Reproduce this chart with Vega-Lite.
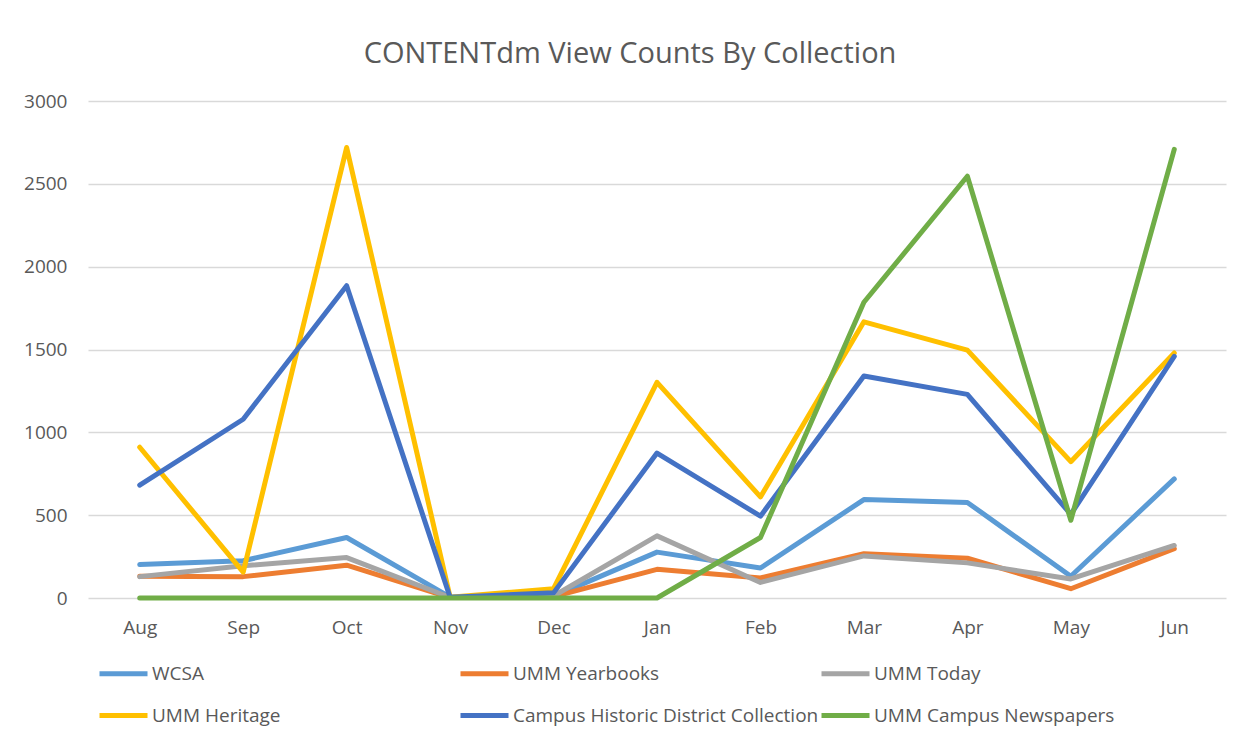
{
  "$schema": "https://vega.github.io/schema/vega-lite/v6.json",
  "width": 1138,
  "height": 497,
  "autosize": {"type": "none"},
  "padding": {"left": 88, "top": 101, "right": 18, "bottom": 143},
  "background": "white",
  "title": {
    "text": "CONTENTdm View Counts By Collection",
    "font": "Open Sans",
    "fontSize": 29,
    "fontWeight": "normal",
    "color": "#595959",
    "anchor": "middle",
    "offset": 23,
    "dx": -27
  },
  "config": {
    "view": {"stroke": null},
    "font": "Open Sans"
  },
  "data": {
    "values": [
      {"m": "Aug", "s": "WCSA", "v": 202}, {"m": "Sep", "s": "WCSA", "v": 225}, {"m": "Oct", "s": "WCSA", "v": 365}, {"m": "Nov", "s": "WCSA", "v": 5}, {"m": "Dec", "s": "WCSA", "v": 10}, {"m": "Jan", "s": "WCSA", "v": 277}, {"m": "Feb", "s": "WCSA", "v": 181}, {"m": "Mar", "s": "WCSA", "v": 594}, {"m": "Apr", "s": "WCSA", "v": 577}, {"m": "May", "s": "WCSA", "v": 131}, {"m": "Jun", "s": "WCSA", "v": 719},
      {"m": "Aug", "s": "UMM Yearbooks", "v": 131}, {"m": "Sep", "s": "UMM Yearbooks", "v": 129}, {"m": "Oct", "s": "UMM Yearbooks", "v": 198}, {"m": "Nov", "s": "UMM Yearbooks", "v": 3}, {"m": "Dec", "s": "UMM Yearbooks", "v": 8}, {"m": "Jan", "s": "UMM Yearbooks", "v": 173}, {"m": "Feb", "s": "UMM Yearbooks", "v": 121}, {"m": "Mar", "s": "UMM Yearbooks", "v": 267}, {"m": "Apr", "s": "UMM Yearbooks", "v": 240}, {"m": "May", "s": "UMM Yearbooks", "v": 56}, {"m": "Jun", "s": "UMM Yearbooks", "v": 298},
      {"m": "Aug", "s": "UMM Today", "v": 129}, {"m": "Sep", "s": "UMM Today", "v": 194}, {"m": "Oct", "s": "UMM Today", "v": 244}, {"m": "Nov", "s": "UMM Today", "v": 3}, {"m": "Dec", "s": "UMM Today", "v": 12}, {"m": "Jan", "s": "UMM Today", "v": 375}, {"m": "Feb", "s": "UMM Today", "v": 94}, {"m": "Mar", "s": "UMM Today", "v": 254}, {"m": "Apr", "s": "UMM Today", "v": 212}, {"m": "May", "s": "UMM Today", "v": 115}, {"m": "Jun", "s": "UMM Today", "v": 317},
      {"m": "Aug", "s": "UMM Heritage", "v": 910}, {"m": "Sep", "s": "UMM Heritage", "v": 156}, {"m": "Oct", "s": "UMM Heritage", "v": 2719}, {"m": "Nov", "s": "UMM Heritage", "v": 5}, {"m": "Dec", "s": "UMM Heritage", "v": 56}, {"m": "Jan", "s": "UMM Heritage", "v": 1302}, {"m": "Feb", "s": "UMM Heritage", "v": 610}, {"m": "Mar", "s": "UMM Heritage", "v": 1667}, {"m": "Apr", "s": "UMM Heritage", "v": 1496}, {"m": "May", "s": "UMM Heritage", "v": 823}, {"m": "Jun", "s": "UMM Heritage", "v": 1479},
      {"m": "Aug", "s": "Campus Historic District Collection", "v": 681}, {"m": "Sep", "s": "Campus Historic District Collection", "v": 1079}, {"m": "Oct", "s": "Campus Historic District Collection", "v": 1885}, {"m": "Nov", "s": "Campus Historic District Collection", "v": 4}, {"m": "Dec", "s": "Campus Historic District Collection", "v": 31}, {"m": "Jan", "s": "Campus Historic District Collection", "v": 875}, {"m": "Feb", "s": "Campus Historic District Collection", "v": 494}, {"m": "Mar", "s": "Campus Historic District Collection", "v": 1340}, {"m": "Apr", "s": "Campus Historic District Collection", "v": 1229}, {"m": "May", "s": "Campus Historic District Collection", "v": 505}, {"m": "Jun", "s": "Campus Historic District Collection", "v": 1458},
      {"m": "Aug", "s": "UMM Campus Newspapers", "v": 0}, {"m": "Sep", "s": "UMM Campus Newspapers", "v": 0}, {"m": "Oct", "s": "UMM Campus Newspapers", "v": 0}, {"m": "Nov", "s": "UMM Campus Newspapers", "v": 0}, {"m": "Dec", "s": "UMM Campus Newspapers", "v": 0}, {"m": "Jan", "s": "UMM Campus Newspapers", "v": 0}, {"m": "Feb", "s": "UMM Campus Newspapers", "v": 365}, {"m": "Mar", "s": "UMM Campus Newspapers", "v": 1785}, {"m": "Apr", "s": "UMM Campus Newspapers", "v": 2546}, {"m": "May", "s": "UMM Campus Newspapers", "v": 469}, {"m": "Jun", "s": "UMM Campus Newspapers", "v": 2708}
    ]
  },
  "mark": {"type": "line", "strokeWidth": 5, "strokeCap": "round", "strokeJoin": "round"},
  "encoding": {
    "x": {
      "field": "m",
      "type": "nominal",
      "sort": ["Aug", "Sep", "Oct", "Nov", "Dec", "Jan", "Feb", "Mar", "Apr", "May", "Jun"],
      "scale": {"type": "point", "padding": 0.5},
      "axis": {
        "title": null,
        "labelAngle": 0,
        "labelFont": "Open Sans",
        "labelFontSize": 19,
        "labelColor": "#595959",
        "ticks": false,
        "domain": false,
        "grid": false,
        "labelPadding": 20
      }
    },
    "y": {
      "field": "v",
      "type": "quantitative",
      "scale": {"domain": [0, 3000], "nice": false},
      "axis": {
        "title": null,
        "values": [0, 500, 1000, 1500, 2000, 2500, 3000],
        "format": "d",
        "labelFont": "Open Sans",
        "labelFontSize": 19,
        "labelColor": "#595959",
        "ticks": false,
        "domain": false,
        "grid": true,
        "gridColor": "#D9D9D9",
        "gridWidth": 1.5,
        "labelPadding": 21
      }
    },
    "color": {
      "field": "s",
      "type": "nominal",
      "sort": ["WCSA", "UMM Yearbooks", "UMM Today", "UMM Heritage", "Campus Historic District Collection", "UMM Campus Newspapers"],
      "scale": {
        "domain": ["WCSA", "UMM Yearbooks", "UMM Today", "UMM Heritage", "Campus Historic District Collection", "UMM Campus Newspapers"],
        "range": ["#5B9BD5", "#ED7D31", "#A5A5A5", "#FFC000", "#4472C4", "#70AD47"]
      },
      "legend": {
        "title": null,
        "orient": "none",
        "legendX": 9,
        "legendY": 546,
        "direction": "horizontal",
        "columns": 3,
        "gridAlign": "all",
        "columnPadding": -19,
        "rowPadding": 5,
        "symbolType": "stroke",
        "symbolSize": 2304,
        "symbolStrokeWidth": 5,
        "labelFont": "Open Sans",
        "labelFontSize": 19,
        "labelColor": "#595959",
        "labelOffset": 2,
        "labelLimit": 400
      }
    }
  }
}
